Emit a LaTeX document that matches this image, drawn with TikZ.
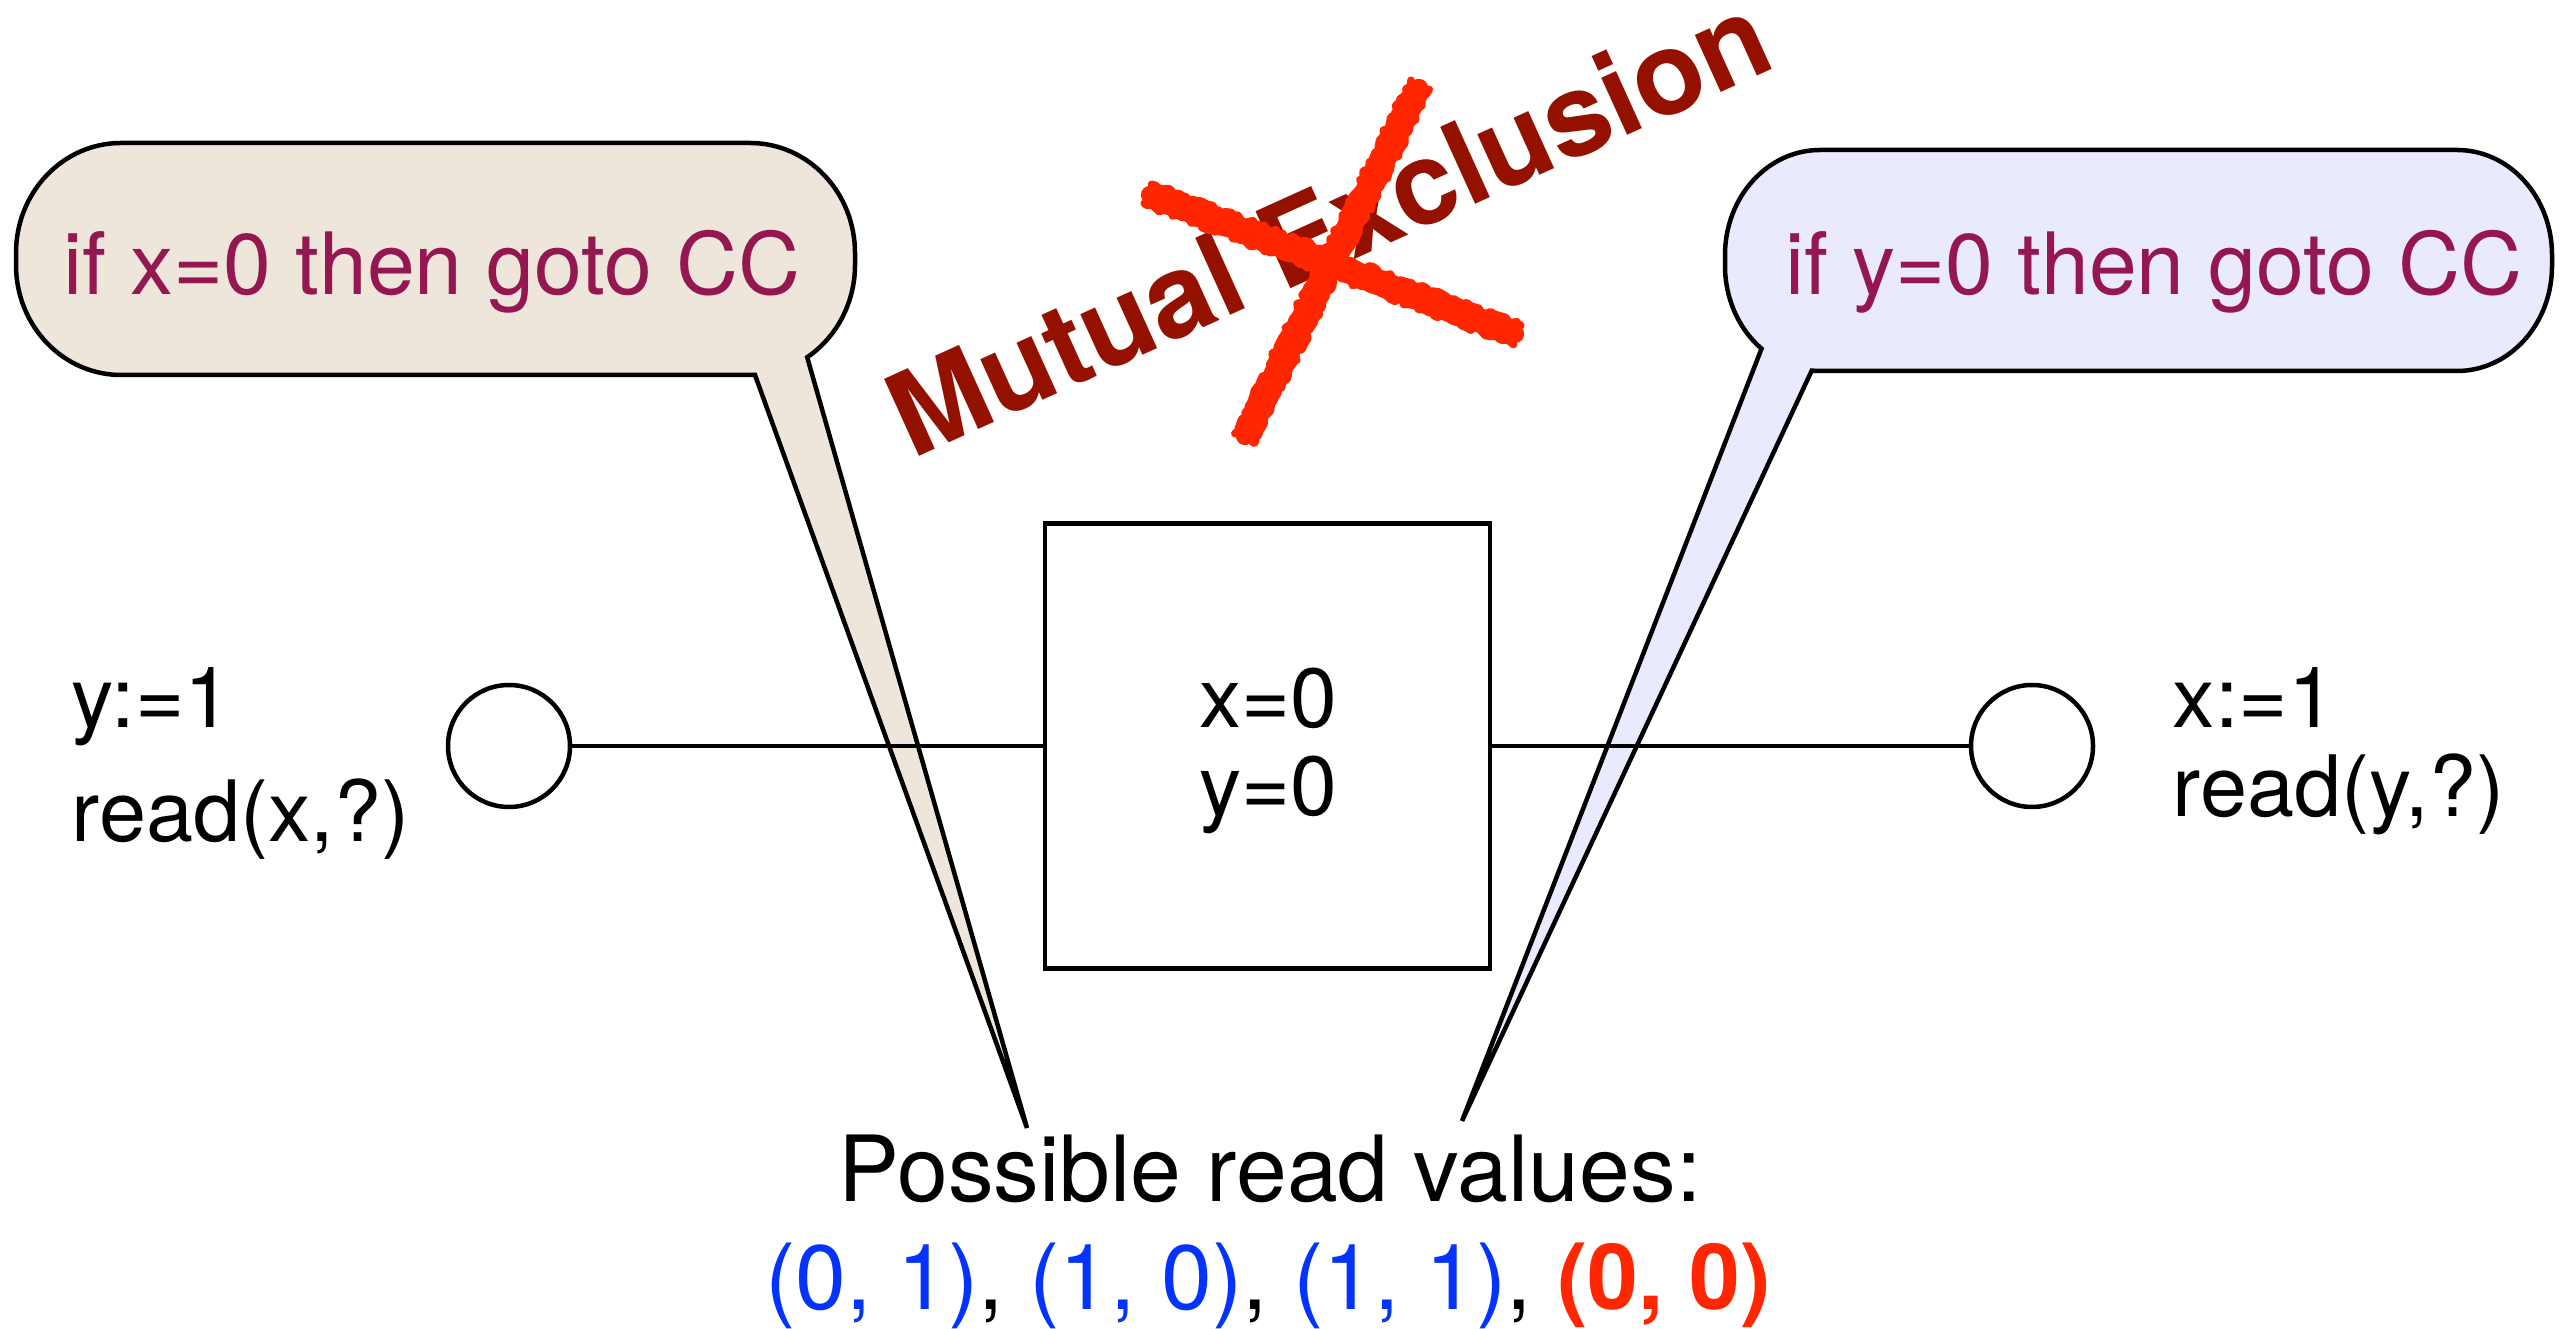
\documentclass[tikz,border=0pt]{standalone}
\usepackage{fontspec}
\setmainfont{TeX Gyre Heros}
\usetikzlibrary{decorations.pathmorphing,calc}
\definecolor{maroonc}{HTML}{941751}
\definecolor{cayenne}{HTML}{941100}
\definecolor{xred}{HTML}{FF2600}
\definecolor{vblue}{HTML}{0433FF}
\definecolor{beigefill}{HTML}{EEE6DB}
\definecolor{lavfill}{HTML}{E9EAFD}
\begin{document}
\begin{tikzpicture}[x=0.3pt,y=-0.3pt,
  bubble/.style={draw=black, line width=1.35pt, line join=miter},
  bubtext/.style={text=maroonc, font=\fontsize{25.8pt}{30pt}\selectfont, inner sep=0pt, anchor=base},
  sidetext/.style={font=\fontsize{25.4pt}{30pt}\selectfont, inner sep=0pt, anchor=base west},
  boxtext/.style={font=\fontsize{25.2pt}{30pt}\selectfont, inner sep=0pt, anchor=base},
  bottext/.style={font=\fontsize{27.4pt}{32pt}\selectfont, inner sep=0pt, anchor=base},
  proc/.style={circle, draw, line width=1.35pt, minimum size=36.6pt, inner sep=0pt},
  memcell/.style={rectangle, draw, line width=1.35pt, minimum size=133.5pt, inner sep=0pt},
  link/.style={draw, line width=1.35pt},
  crosscore/.style={xred, line width=5.5pt, line cap=round},
  crossedge/.style={xred, line width=2.4pt, line cap=round, line join=round, decorate,
    decoration={random steps, segment length=1.2pt, amplitude=0.7pt}},
]
\useasboundingbox (0,0) rectangle (2576,1329);
\pgfmathsetseed{7}

% callout tips
\coordinate (tipL) at (1027,1128);
\coordinate (tipR) at (1462,1121);

% left callout
\path[bubble, fill=beigefill]
  (121,143) -- (750,143) arc[start angle=-90, end angle=0, x radius=105, y radius=110]
  -- (855,265) arc[start angle=0, end angle=57, x radius=105, y radius=110]
  -- (tipL) -- (755,375) -- (121,375)
  arc[start angle=90, end angle=180, x radius=105, y radius=110]
  -- (16,253) arc[start angle=180, end angle=270, x radius=105, y radius=110] -- cycle;

% right callout
\path[bubble, fill=lavfill]
  (1820,150) -- (2457,150) arc[start angle=-90, end angle=0, x radius=95, y radius=105]
  -- (2552,266) arc[start angle=0, end angle=90, x radius=95, y radius=105]
  -- (1820,371) arc[start angle=90, end angle=95, x radius=95, y radius=105]
  -- (tipR) -- (1761.5,348.7)
  arc[start angle=128, end angle=180, x radius=95, y radius=105]
  -- (1725,255) arc[start angle=180, end angle=270, x radius=95, y radius=105] -- cycle;

\node[bubtext] (condL) at (432,295) {if x=0 then goto CC};
\node[bubtext] (condR) at (2154,295) {if y=0 then goto CC};

% processes and memory
\node[proc] (p1) at (509,746) {};
\node[proc] (p2) at (2032,746) {};
\node[memcell] (mem) at (1267.5,746) {};
\draw[link] (p1) -- (mem);
\draw[link] (mem) -- (p2);

\node[boxtext] (memx) at (1268,728) {x=0};
\node[boxtext] (memy) at (1268,816) {y=0};

\node[sidetext] (l1) at (71,728) {y:=1};
\node[sidetext] (l2) at (71,842) {read(x,?)};
\node[sidetext] (r1) at (2172,728) {x:=1};
\node[sidetext] (r2) at (2172,817) {read(y,?)};

% bottom text
\node[bottext] (poss) at (1270,1202) {Possible read values:};
\node[bottext] (vals) at (1268,1309) {\textcolor{vblue}{(0, 1)}, \textcolor{vblue}{(1, 0)}, \textcolor{vblue}{(1, 1)}, \textcolor{xred}{\bfseries (0, 0)}};

% crossed-out title
\node[font=\bfseries\fontsize{34.8pt}{40pt}\selectfont, text=cayenne, rotate=24.4,
      anchor=base west, inner sep=0pt] (mutex) at (912,460) {Mutual Exclusion};
\draw[crosscore] (1150,195) -- (1515,334);
\draw[crosscore] (1419,88) -- (1245,436);
\foreach \o in {-1,1}{
  \draw[crossedge] ($(1148,194)+(\o*-3.6,\o*9.4)$) -- ($(1517,335)+(\o*-3.6,\o*9.4)$);
  \draw[crossedge] ($(1420,85)+(\o*9,\o*4.5)$) -- ($(1244,438)+(\o*9,\o*4.5)$);
}
\end{tikzpicture}
\end{document}
